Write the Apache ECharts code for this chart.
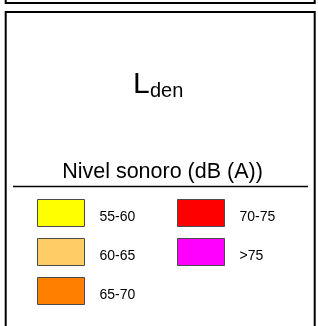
<!DOCTYPE html>
<html>
<head>
<meta charset="utf-8">
<style>html,body{margin:0;padding:0;background:#fff}#c{width:318px;height:326px}</style>
<script src="https://cdn.jsdelivr.net/npm/echarts@6/dist/echarts.min.js"></script>
</head>
<body>
<div id="c"></div>
<script>
// Data
var leftCategories = ['55-60', '60-65', '65-70'];
var rightCategories = ['70-75', '>75'];
var categoryColors = ['#FFFF00', '#FFCC66', '#FF8000', '#FF0000', '#FF00FF'];
var titleMain = 'L';
var titleSub = 'den';
var legendTitle = 'Nivel sonoro (dB (A))';

var FONT = '"Liberation Sans", Arial, sans-serif';
var allCats = leftCategories.concat(rightCategories);
var pieData = allCats.map(function (n, i) {
  return { name: n, value: 1, itemStyle: { color: categoryColors[i] } };
});

function makeLegend(data, left) {
  return {
    data: data,
    orient: 'vertical',
    left: left,
    top: 199,
    padding: 0,
    itemWidth: 47,
    itemHeight: 27,
    itemGap: 11,
    icon: 'rect',
    selectedMode: false,
    itemStyle: { borderColor: '#4a4a4a', borderWidth: 1 },
    formatter: function (name) { return '{t|' + name + '}'; },
    textStyle: {
      fontFamily: FONT, fontSize: 14, color: '#000',
      rich: { t: { fontFamily: FONT, fontSize: 14, color: '#000', padding: [8, 0, 0, 10] } }
    }
  };
}

var chart = echarts.init(document.getElementById('c'), null, { renderer: 'canvas' });
chart.setOption({
  animation: false,
  legend: [makeLegend(leftCategories, 37), makeLegend(rightCategories, 177)],
  series: [{
    type: 'pie',
    center: [-500, -500],
    radius: [0, 1],
    label: { show: false },
    silent: true,
    data: pieData
  }],
  graphic: [
    { type: 'rect', shape: { x: 5.7, y: -20, width: 309, height: 23 }, style: { fill: 'none', stroke: '#000', lineWidth: 2 } },
    { type: 'rect', shape: { x: 5.7, y: 12, width: 309, height: 340 }, style: { fill: 'none', stroke: '#000', lineWidth: 2 } },
    { type: 'line', shape: { x1: 13, y1: 186.5, x2: 308, y2: 186.5 }, style: { stroke: '#000', lineWidth: 1.6 } },
    { type: 'text', x: 133, y: 85, style: { text: titleMain, font: '30px ' + FONT, fill: '#000', align: 'left', verticalAlign: 'middle' } },
    { type: 'text', x: 150, y: 91, style: { text: titleSub, font: '20px ' + FONT, fill: '#000', align: 'left', verticalAlign: 'middle' } },
    { type: 'text', x: 162.5, y: 172.5, style: { text: legendTitle, font: '21.5px ' + FONT, fill: '#000', align: 'center', verticalAlign: 'middle' } }
  ]
});
</script>
</body>
</html>
